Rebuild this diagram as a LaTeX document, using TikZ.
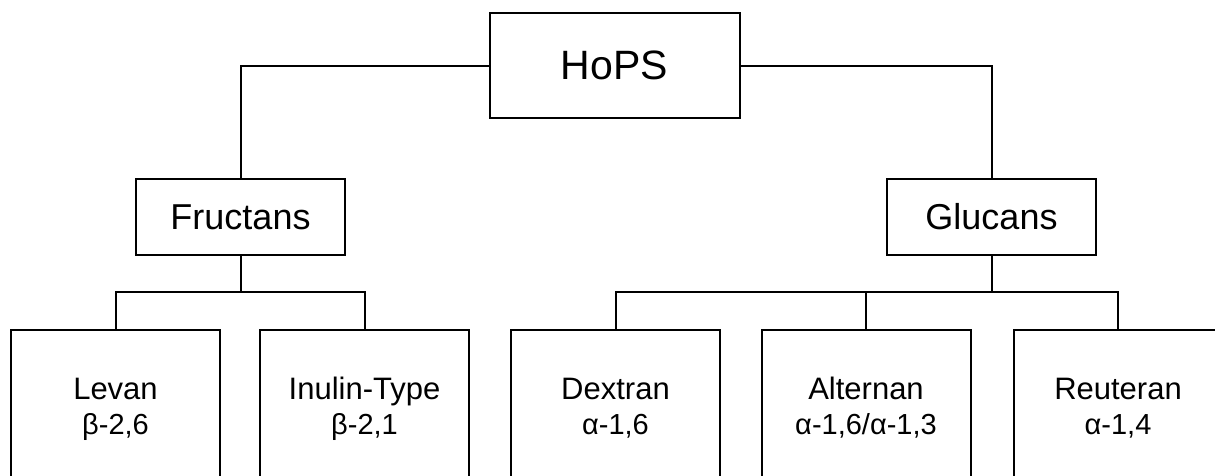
\documentclass[tikz,border=0pt]{standalone}
\usepackage{fontspec}
\setmainfont{Liberation Sans}
\begin{document}
\begin{tikzpicture}[x=1pt,y=-1pt,
  box/.style={draw=black, line width=2pt, inner sep=0pt, minimum width=209pt},
  topbox/.style={box, minimum width=250pt, minimum height=105pt, font=\fontsize{41}{49}\selectfont},
  midbox/.style={box, minimum height=76pt, font=\fontsize{36}{43}\selectfont},
  leaf/.style={box, minimum height=200pt, anchor=north},
  nm/.style={anchor=base, inner sep=0pt, font=\fontsize{31}{37}\selectfont},
  sb/.style={anchor=base, inner sep=0pt, font=\fontsize{29}{35}\selectfont},
  conn/.style={draw=black, line width=2pt}
]
\useasboundingbox (0,0) rectangle (1215,475);
\clip (0,0) rectangle (1215,475);

% boxes
\node[topbox] (hops) at (614.5,65.5) {HoPS};
\node[midbox] (fru) at (240.5,217) {Fructans};
\node[midbox] (glu) at (991.5,217) {Glucans};

\node[leaf] (levan) at (115.5,329) {};
\node[leaf] (inulin) at (364.5,329) {};
\node[leaf] (dextran) at (615.5,329) {};
\node[leaf] (alternan) at (866,329) {};
\node[leaf] (reuteran) at (1118,329) {};

% texts
\node[nm] (levanN) at (115.5,399) {Levan};
\node[sb] (levanS) at (115.5,434) {β-2,6};
\node[nm] (inulinN) at (364.5,399) {Inulin-Type};
\node[sb] (inulinS) at (364.5,434) {β-2,1};
\node[nm] (dextranN) at (615.5,399) {Dextran};
\node[sb] (dextranS) at (615.5,434) {α-1,6};
\node[nm] (alternanN) at (866,399) {Alternan};
\node[sb] (alternanS) at (866,434) {α-1,6/α-1,3};
\node[nm] (reuteranN) at (1118,399) {Reuteran};
\node[sb] (reuteranS) at (1118,434) {α-1,4};

% connectors
\draw[conn] (hops.west) -| (fru.north);
\draw[conn] (hops.east) -| (glu.north);

\coordinate (fj) at (240.5,292);
\draw[conn] (fru.south) -- (fj);
\draw[conn] (levan.north) |- (fj) -| (inulin.north);

\coordinate (gj) at (991.5,292);
\draw[conn] (glu.south) -- (gj);
\draw[conn] (dextran.north) |- (gj) -| (reuteran.north);
\draw[conn] (alternan.north) -- (alternan.north |- gj);
\end{tikzpicture}
\end{document}
